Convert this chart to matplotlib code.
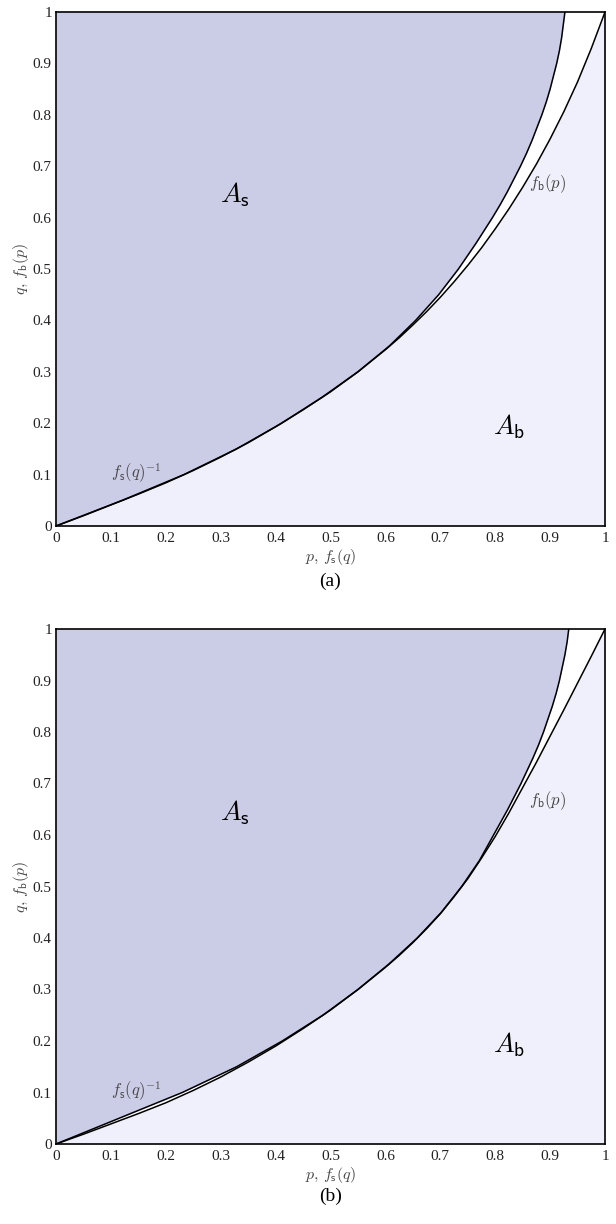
from matplotlib import pyplot as plt
import numpy as np

plt.rcParams["mathtext.fontset"] = "cm"
plt.rcParams["font.family"] = ["Liberation Serif", "DejaVu Serif"]

FONTSIZE_TICKS = 11
FONTSIZE_LABEL = 11.5
FONTSIZE_NOTE = 12
FONTSIZE_AREA = 20

# f_b(p): q values read at each p
p_grid = [0, 0.05, 0.1, 0.15, 0.2, 0.25, 0.3, 0.35, 0.4, 0.45, 0.5, 0.55,
          0.6, 0.625, 0.65, 0.675, 0.7, 0.725, 0.75, 0.775, 0.8, 0.825,
          0.85, 0.875, 0.9, 0.925, 0.95, 0.975, 1.0]
fb_a = [0, 0.020, 0.041, 0.062, 0.084, 0.108, 0.134, 0.162, 0.193, 0.226, 0.261, 0.300,
        0.343, 0.366, 0.391, 0.417, 0.445, 0.475, 0.507, 0.541, 0.578, 0.617,
        0.659, 0.704, 0.753, 0.806, 0.864, 0.929, 1.0]
fb_b = [0, 0.019, 0.039, 0.059, 0.080, 0.104, 0.130, 0.159, 0.190, 0.224, 0.260, 0.300,
        0.343, 0.366, 0.391, 0.418, 0.447, 0.480, 0.515, 0.555, 0.597, 0.643,
        0.692, 0.741, 0.792, 0.843, 0.895, 0.947, 1.0]

# f_s(q)^-1: p values read at each q
q_grid = [0, 0.05, 0.1, 0.15, 0.2, 0.25, 0.3, 0.35, 0.4, 0.45,
          0.5, 0.525, 0.55, 0.575, 0.6, 0.625, 0.65, 0.675, 0.7, 0.725, 0.75,
          0.775, 0.8, 0.825, 0.85, 0.875, 0.9, 0.925, 0.95, 0.975, 1.0]
fs_a = [0, 0.121, 0.233, 0.329, 0.411, 0.484, 0.550, 0.607, 0.655, 0.697,
        0.733, 0.749, 0.765, 0.780, 0.795, 0.809, 0.822, 0.834, 0.846, 0.857, 0.867,
        0.876, 0.885, 0.893, 0.900, 0.906, 0.912, 0.917, 0.921, 0.924, 0.927]
fs_b = [0, 0.115, 0.230, 0.329, 0.412, 0.486, 0.550, 0.607, 0.658, 0.702,
        0.739, 0.755, 0.771, 0.784, 0.797, 0.810, 0.823, 0.835, 0.847, 0.858, 0.869,
        0.879, 0.888, 0.896, 0.904, 0.911, 0.917, 0.922, 0.927, 0.931, 0.934]

ticks = [0, 0.1, 0.2, 0.3, 0.4, 0.5, 0.6, 0.7, 0.8, 0.9, 1]
tick_labels = ['0', '0.1', '0.2', '0.3', '0.4', '0.5', '0.6', '0.7', '0.8', '0.9', '1']

COLOR_S = '#cbcce6'
COLOR_B = '#f0f0fc'
GRAY = '#484848'

W, H = 616, 1224
fig = plt.figure(figsize=(W / 100, H / 100), dpi=100)

panels = [
    (fb_a, fs_a, '(a)', 12, 526, 581),
    (fb_b, fs_b, '(b)', 629, 1144, 1196),
]

for fb, fs, caption, top, bottom, cap_y in panels:
    ax = fig.add_axes([56 / W, 1 - bottom / H, 549 / W, (bottom - top) / H])
    ax.fill_between(p_grid, 0, fb, color=COLOR_B, lw=0)
    ax.fill_betweenx(q_grid, 0, fs, color=COLOR_S, lw=0)
    ax.plot(p_grid, fb, 'k-', lw=1.1, solid_joinstyle='round')
    ax.plot(fs, q_grid, 'k-', lw=1.1, solid_joinstyle='round')
    ax.set_xlim(0, 1)
    ax.set_ylim(0, 1)
    ax.set_xticks(ticks)
    ax.set_xticklabels(tick_labels, fontsize=FONTSIZE_TICKS)
    ax.set_yticks(ticks)
    ax.set_yticklabels(tick_labels, fontsize=FONTSIZE_TICKS)
    ax.tick_params(length=0, colors='#222222')
    ax.tick_params(axis='x', pad=4)
    ax.tick_params(axis='y', pad=3)
    for s in ax.spines.values():
        s.set_linewidth(1.2)
    ax.set_xlabel(r'$p,\,f_{\mathsf{s}}(q)$', fontsize=FONTSIZE_LABEL, color=GRAY, labelpad=2)
    ax.set_ylabel(r'$q,\,f_{\mathsf{b}}(p)$', fontsize=FONTSIZE_LABEL, color=GRAY, labelpad=1)

    ax.text(0.326, 0.644, r'$A_{\mathsf{s}}$', fontsize=FONTSIZE_AREA, ha='center', va='center')
    ax.text(0.825, 0.193, r'$A_{\mathsf{b}}$', fontsize=FONTSIZE_AREA, ha='center', va='center')
    ax.text(0.896, 0.667, r'$f_{\mathsf{b}}(p)$', fontsize=FONTSIZE_NOTE, color=GRAY,
            ha='center', va='center')
    ax.text(0.146, 0.103, r'$f_{\mathsf{s}}(q)^{-1}$', fontsize=FONTSIZE_NOTE, color=GRAY,
            ha='center', va='center')

    fig.text(0.5 * (56 + 605) / W, 1 - cap_y / H, caption, fontsize=14,
             ha='center', va='center')

plt.savefig('out.png', dpi=100)
